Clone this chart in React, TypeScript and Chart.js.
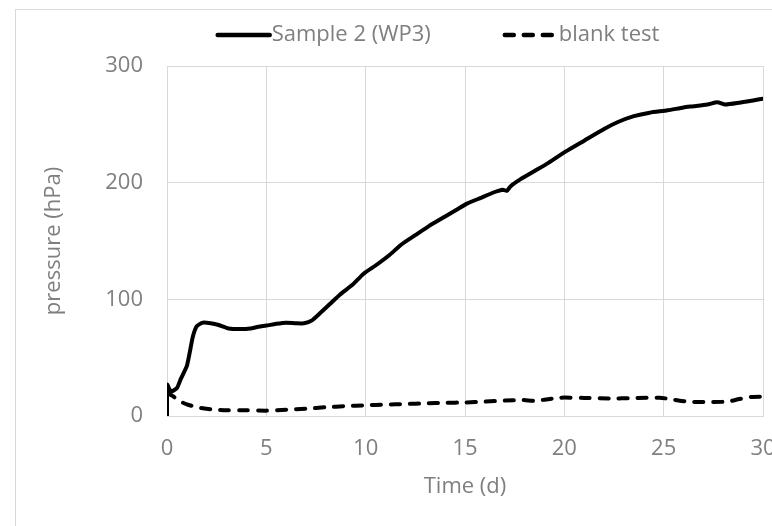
import React, { useEffect, useRef } from "react";
import { Chart, registerables } from "chart.js";

Chart.register(...registerables);

// ---- data ----
const sampleLabel = "Sample 2 (WP3)";
const blankLabel = "blank test";

const sampleTime = [
  0, 0, 0.2, 0.5, 0.7, 1.0, 1.15, 1.3, 1.5, 1.8, 2.2, 2.6, 3.1, 3.7, 4.2, 4.6,
  5.0, 5.5, 6.0, 6.5, 6.9, 7.3, 7.7, 8.2, 8.7, 9.3, 9.9, 10.5, 11.2, 11.8,
  12.5, 13.2, 14.0, 14.6, 15.1, 15.8, 16.5, 16.9, 17.1, 17.3, 17.8, 18.5,
  19.2, 20.1, 21.0, 22.0, 22.7, 23.5, 24.3, 25.2, 26.0, 26.5, 27.2, 27.7,
  28.1, 28.8, 29.5, 30,
];
const samplePressure = [
  0, 27, 21, 24, 32, 43, 55, 68, 77, 80, 79.5, 78, 75, 74.5, 75, 76.5, 77.5,
  79, 80, 79.5, 79.5, 82, 88, 96, 104, 112, 122, 129, 138, 147, 155, 163, 171,
  177, 182, 187, 192, 194, 193, 197, 203, 210, 217, 227, 236, 246, 252, 257,
  260, 262, 264.5, 265.5, 267, 269, 267, 268.5, 270.5, 272,
];

const blankTime = [
  0, 0.3, 0.6, 1.0, 1.5, 2.2, 3, 4, 5, 6, 7, 8, 9, 10, 11, 12, 13, 14, 15, 16,
  17, 17.9, 18.5, 19, 19.8, 21, 22.3, 23.5, 24.8, 25.5, 26.2, 27.2, 28.2,
  28.8, 29.4, 30,
];
const blankPressure = [
  20, 17, 13, 10, 7.5, 5.7, 5, 5, 4.6, 5.4, 6.3, 7.5, 8.5, 9.2, 9.8, 10.3,
  10.8, 11.3, 11.6, 12.3, 13.2, 13.7, 13, 14, 15.7, 15.5, 15, 15.4, 15.7, 14,
  12.3, 12, 12.3, 14.5, 16.3, 16.5,
];

const xTicks = [0, 5, 10, 15, 20, 25, 30];
const yTicks = [0, 100, 200, 300];

const FONT = '"Open Sans", sans-serif';
const FONT_SIZE = 22;
const TEXT_COLOR = "#7f7f7f";
const GRID_COLOR = "#d9d9d9";

const legendPlugin = {
  id: "customLegend",
  afterDraw(chart: any) {
    const ctx = chart.ctx as CanvasRenderingContext2D;
    ctx.save();
    ctx.font = `${FONT_SIZE}px ${FONT}`;
    const items = chart.data.datasets.map((ds: any) => ({
      text: ds.label as string,
      w: ctx.measureText(ds.label).width,
      dash: ds.borderDash || [],
      lw: ds.borderWidth,
      color: ds.borderColor,
      cap: ds.borderCapStyle || "butt",
    }));
    const lineLen = 52;
    const gap = 2;
    const spacing = 74;
    const total =
      items.reduce((s: number, it: any) => s + lineLen + gap + it.w, 0) +
      spacing * (items.length - 1);
    let x = chart.width / 2 - total / 2;
    const y = 25;
    items.forEach((it: any) => {
      ctx.beginPath();
      ctx.setLineDash(it.dash);
      ctx.lineCap = it.cap;
      ctx.lineWidth = it.lw + 0.5;
      ctx.strokeStyle = it.color;
      ctx.moveTo(x, y);
      ctx.lineTo(x + lineLen, y);
      ctx.stroke();
      ctx.setLineDash([]);
      ctx.fillStyle = TEXT_COLOR;
      ctx.textAlign = "left";
      ctx.textBaseline = "middle";
      ctx.fillText(it.text, x + lineLen + gap, y);
      x += lineLen + gap + it.w + spacing;
    });
    ctx.restore();
  },
};

export default function App() {
  const canvasRef = useRef<HTMLCanvasElement | null>(null);

  useEffect(() => {
    document.body.style.margin = "0";
    const canvas = canvasRef.current;
    if (!canvas) return;
    const chart = new Chart(canvas, {
      type: "line",
      data: {
        datasets: [
          {
            label: sampleLabel,
            data: sampleTime.map((t, i) => ({ x: t, y: samplePressure[i] })),
            borderColor: "#000000",
            backgroundColor: "#000000",
            borderWidth: 4,
            pointRadius: 0,
            tension: 0.2,
            borderCapStyle: "round",
            borderJoinStyle: "round",
          },
          {
            label: blankLabel,
            data: blankTime.map((t, i) => ({ x: t, y: blankPressure[i] })),
            borderColor: "#000000",
            backgroundColor: "#000000",
            borderWidth: 4,
            borderDash: [9, 10],
            borderCapStyle: "round",
            borderJoinStyle: "round",
            pointRadius: 0,
            tension: 0.2,
          },
        ],
      },
      options: {
        animation: false,
        responsive: false,
        devicePixelRatio: 1,
        layout: { padding: { left: 0, top: 56, right: 98, bottom: 0 } },
        plugins: {
          legend: { display: false },
          tooltip: { enabled: false },
        },
        scales: {
          x: {
            type: "linear",
            min: 0,
            max: 30,
            afterFit: (scale: any) => {
              scale.height = 110;
            },
            afterBuildTicks: (scale: any) => {
              scale.ticks = xTicks.map((v) => ({ value: v }));
            },
            grid: { color: GRID_COLOR, lineWidth: 1, drawTicks: false },
            border: { color: GRID_COLOR, width: 1 },
            ticks: {
              color: TEXT_COLOR,
              font: { family: FONT, size: FONT_SIZE },
              padding: 20,
              maxRotation: 0,
            },
            title: {
              display: true,
              text: "Time (d)",
              color: TEXT_COLOR,
              font: { family: FONT, size: FONT_SIZE },
              padding: { top: 0, bottom: 26 },
            },
          },
          y: {
            type: "linear",
            min: 0,
            max: 300,
            afterFit: (scale: any) => {
              scale.width = 151;
            },
            afterBuildTicks: (scale: any) => {
              scale.ticks = yTicks.map((v) => ({ value: v }));
            },
            grid: { color: GRID_COLOR, lineWidth: 1, drawTicks: false },
            border: { color: GRID_COLOR, width: 1 },
            ticks: {
              color: TEXT_COLOR,
              font: { family: FONT, size: FONT_SIZE },
              padding: 24,
            },
            title: {
              display: true,
              text: "pressure (hPa)",
              color: TEXT_COLOR,
              font: { family: FONT, size: FONT_SIZE },
              padding: { top: 25, bottom: 0 },
            },
          },
        },
      },
      plugins: [legendPlugin],
    });
    return () => chart.destroy();
  }, []);

  return (
    <div
      style={{
        position: "fixed",
        left: 0,
        top: 0,
        width: 772,
        height: 526,
        overflow: "hidden",
        background: "#ffffff",
      }}
    >
      <div
        style={{
          position: "absolute",
          left: 15,
          top: 9,
          width: 900,
          height: 600,
          borderLeft: "1px solid #d9d9d9",
          borderTop: "1px solid #d9d9d9",
        }}
      >
        <div style={{ position: "absolute", left: 0, top: 0, width: 845, height: 516 }}>
          <canvas ref={canvasRef} width={845} height={516} style={{ width: 845, height: 516 }} />
        </div>
      </div>
    </div>
  );
}
